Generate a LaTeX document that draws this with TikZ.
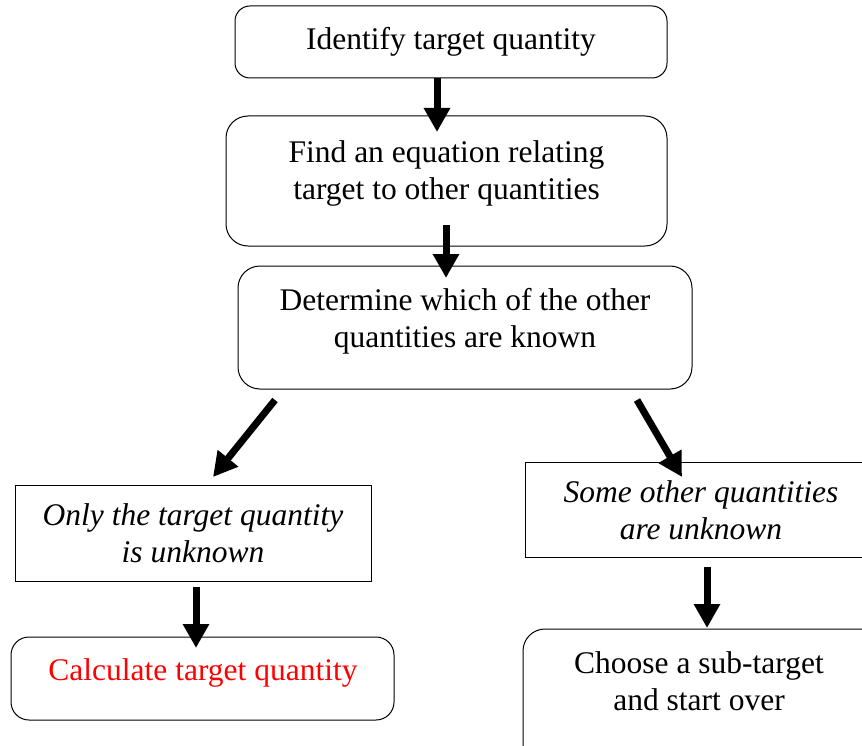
\documentclass[tikz,border=0pt]{standalone}
\usepackage{fontspec}
\setmainfont{Liberation Serif}
\usetikzlibrary{arrows.meta}
\begin{document}
\begin{tikzpicture}[x=1pt,y=-1pt,
  box/.style={draw=black,line width=1pt,inner sep=0pt},
  rbox/.style={box,rounded corners=#1},
  txt/.style={align=center,inner sep=0pt,anchor=base,font=\fontsize{31.5}{37}\selectfont},
  arr/.style={-{Triangle[width=25pt,length=24pt]},line width=7pt,black}]
\useasboundingbox (0,0) rectangle (862,746);
\clip (0,0) rectangle (862,746);
% boxes
\node[rbox=15pt,minimum width=432pt,minimum height=72pt] (b1) at (451,42) {};
\node[rbox=22pt,minimum width=441pt,minimum height=130pt] (b2) at (446.5,181) {};
\node[rbox=22pt,minimum width=454pt,minimum height=123pt] (b3) at (465,327.5) {};
\node[box,minimum width=356pt,minimum height=96pt] (b4) at (193,533) {};
\node[box,minimum width=377pt,minimum height=95pt] (b5) at (713.5,509.5) {};
\node[rbox=18pt,minimum width=383pt,minimum height=83pt] (b6) at (202.5,678.5) {};
\node[rbox=22pt,minimum width=377pt,minimum height=161pt] (b7) at (711.5,709.5) {};
% texts
\node[txt] (t1) at (451,50) {Identify target quantity};
\node[txt] (t2) at (446.5,199.5) {Find an equation relating\\target to other quantities};
\node[txt] (t3) at (465,347.5) {Determine which of the other\\quantities are known};
\node[txt,font=\fontsize{31.5}{37}\selectfont\itshape] (t4) at (193,562) {Only the target quantity\\is unknown};
\node[txt,font=\fontsize{31.5}{37}\selectfont\itshape] (t5) at (701,539) {Some other quantities\\are unknown};
\node[txt,text={rgb,255:red,255;green,0;blue,0}] (t6) at (203,680) {Calculate target quantity};
\node[txt] (t7) at (699,710) {Choose a sub-target\\and start over};
% arrow end points
\coordinate (a1) at (437,132);
\coordinate (a2s) at (446,225);
\coordinate (a2) at (446,278);
\coordinate (a3s) at (275,400);
\coordinate (a3) at (213,477);
\coordinate (a4s) at (637,400);
\coordinate (a4) at (682,477);
\coordinate (a5s) at (196,587);
\coordinate (a5) at (196,648);
\coordinate (a6s) at (707,567);
\coordinate (a6) at (707,628);
% arrows
\draw[arr] (b1.south -| a1) -- (a1);
\draw[arr] (a2s) -- (a2);
\draw[arr] (a3s) -- (a3);
\draw[arr] (a4s) -- (a4);
\draw[arr] (a5s) -- (a5);
\draw[arr] (a6s) -- (a6);
\end{tikzpicture}
\end{document}
